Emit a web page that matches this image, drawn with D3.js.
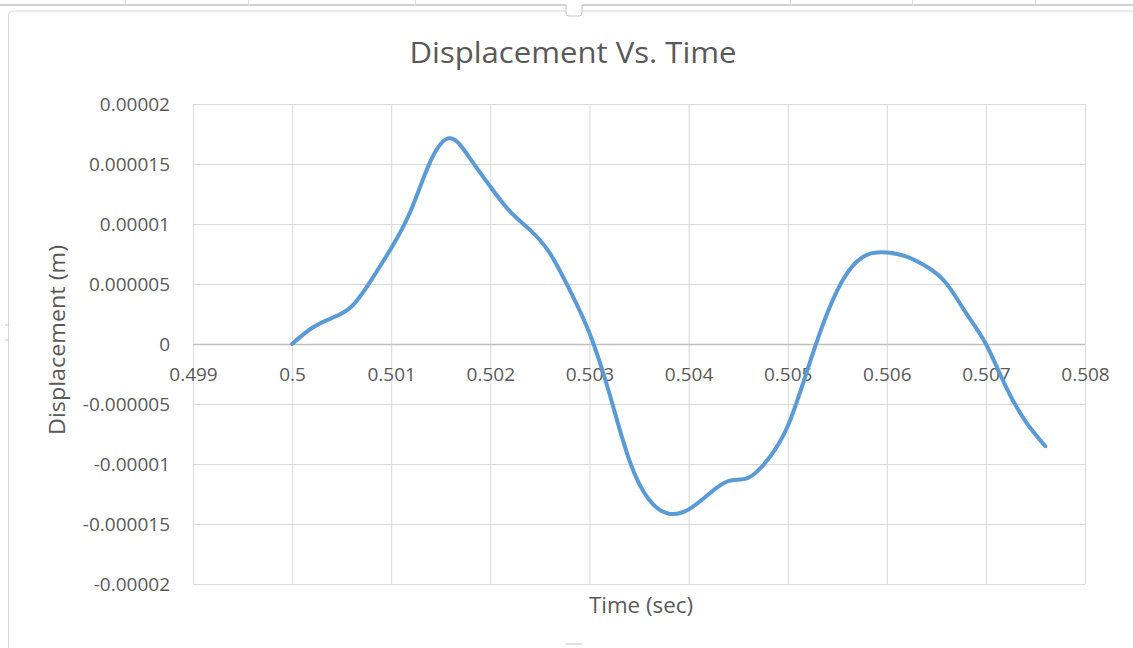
<!DOCTYPE html>
<html>
<head>
<meta charset="utf-8">
<script src="https://cdn.jsdelivr.net/npm/d3@7"></script>
<style>
  html, body { margin: 0; padding: 0; background: #ffffff; }
  svg { display: block; }
  text { font-family: "Open Sans", "Noto Sans", sans-serif; fill: #595959; }
</style>
</head>
<body>
<svg id="chart" width="1133" height="648"></svg>
<script>
// Time samples (s) and measured displacement (m)
const time = [
  0.5000, 0.5002, 0.5004, 0.5006, 0.5008, 0.5010, 0.5012, 0.5014, 0.5016, 0.5018,
  0.5020, 0.5022, 0.5024, 0.5026, 0.5028, 0.5030, 0.5032, 0.5034, 0.5036, 0.5038,
  0.5040, 0.5042, 0.5044, 0.5046, 0.5048, 0.5050, 0.5052, 0.5054, 0.5056, 0.5058,
  0.5060, 0.5062, 0.5064, 0.5066, 0.5068, 0.5070, 0.5072, 0.5074, 0.5076
];
const displacement = [
  0, 1.33e-6, 2.16e-6, 3.13e-6, 5.35e-6, 7.99e-6, 11.17e-6, 15.3e-6, 17.14e-6, 15.4e-6,
  13.11e-6, 11.03e-6, 9.51e-6, 7.57e-6, 4.52e-6, 0.92e-6, -4.08e-6, -9.63e-6, -12.95e-6, -14.14e-6,
  -13.79e-6, -12.54e-6, -11.43e-6, -11.15e-6, -9.63e-6, -6.86e-6, -2.14e-6, 2.58e-6, 5.91e-6, 7.43e-6,
  7.62e-6, 7.29e-6, 6.46e-6, 5.07e-6, 2.58e-6, 0, -3.53e-6, -6.44e-6, -8.52e-6
];

// Axis ticks and their printed labels
const xTicks = [0.499, 0.500, 0.501, 0.502, 0.503, 0.504, 0.505, 0.506, 0.507, 0.508];
const xTickLabels = ["0.499", "0.5", "0.501", "0.502", "0.503", "0.504", "0.505", "0.506", "0.507", "0.508"];
const yTicks = [2e-5, 1.5e-5, 1e-5, 5e-6, 0, -5e-6, -1e-5, -1.5e-5, -2e-5];
const yTickLabels = ["0.00002", "0.000015", "0.00001", "0.000005", "0", "-0.000005", "-0.00001", "-0.000015", "-0.00002"];

const titleText = "Displacement Vs. Time";
const xTitle = "Time (sec)";
const yTitle = "Displacement (m)";

const svg = d3.select("#chart");
const plot = { left: 193, right: 1085, top: 104, bottom: 584 };

// Surrounding sheet/frame lines
const frame = svg.append("g").attr("fill", "none");
frame.append("path").attr("d", "M0,5H566M582,5H1133").attr("stroke", "#c4c4c4").attr("stroke-width", 1.5);
frame.append("path")
  .attr("d", [125, 248, 415, 790, 912, 1035].map(v => `M${v + 0.5},0V5`).join(""))
  .attr("stroke", "#dddddd").attr("stroke-width", 1);
frame.append("path").attr("d", "M8.5,648V16Q8.5,11 13.5,11H566M582,11H1133").attr("stroke", "#d6d6d6").attr("stroke-width", 1);
frame.append("path").attr("d", "M566,5V13Q566,16 569,16H579Q582,16 582,13V5").attr("stroke", "#c4c4c4").attr("stroke-width", 1);
frame.append("path").attr("d", "M5,325H9M5,340H9M566,644H582").attr("stroke", "#c4c4c4").attr("stroke-width", 1);

const x = d3.scaleLinear().domain([0.499, 0.508]).range([plot.left, plot.right]);
const y = d3.scaleLinear().domain([-2e-5, 2e-5]).range([plot.bottom, plot.top]);

// Gridlines
const grid = svg.append("g");
grid.append("g")
  .attr("transform", `translate(0,${plot.bottom})`)
  .call(d3.axisBottom(x).tickValues(xTicks).tickSize(-(plot.bottom - plot.top)).tickFormat(""))
  .call(g => g.select(".domain").remove())
  .call(g => g.selectAll("line").attr("stroke", "#d9d9d9").attr("stroke-width", 1));
grid.append("g")
  .attr("transform", `translate(${plot.left},0)`)
  .call(d3.axisLeft(y).tickValues(yTicks).tickSize(-(plot.right - plot.left)).tickFormat(""))
  .call(g => g.select(".domain").remove())
  .call(g => g.selectAll("line").attr("stroke", "#d9d9d9").attr("stroke-width", 1));

// Horizontal axis line through zero
svg.append("line")
  .attr("x1", plot.left).attr("x2", plot.right)
  .attr("y1", Math.round(y(0)) + 0.5).attr("y2", Math.round(y(0)) + 0.5)
  .attr("stroke", "#bfbfbf").attr("stroke-width", 1.5);

// Y tick labels
const yAxis = svg.append("g")
  .attr("transform", `translate(${plot.left},0)`)
  .call(d3.axisLeft(y).tickValues(yTicks).tickSize(0).tickPadding(23)
    .tickFormat((d, i) => yTickLabels[i]));
yAxis.select(".domain").remove();
yAxis.selectAll("text")
  .attr("font-family", "'Open Sans', sans-serif")
  .attr("font-size", 19).attr("fill", "#595959");

// X tick labels, placed under the zero line
const xAxis = svg.append("g")
  .attr("transform", `translate(0,${y(0)})`)
  .call(d3.axisBottom(x).tickValues(xTicks).tickSize(0).tickPadding(24)
    .tickFormat((d, i) => xTickLabels[i]));
xAxis.select(".domain").remove();
xAxis.selectAll("text")
  .attr("font-family", "'Open Sans', sans-serif")
  .attr("font-size", 19).attr("fill", "#595959");

// Data line
const pts = time.map((t, i) => [t, displacement[i]]);
const line = d3.line()
  .x(d => x(d[0]))
  .y(d => y(d[1]))
  .curve(d3.curveNatural);
svg.append("path")
  .datum(pts)
  .attr("d", line)
  .attr("fill", "none")
  .attr("stroke", "#5b9bd5")
  .attr("stroke-width", 4)
  .attr("stroke-linecap", "round")
  .attr("stroke-linejoin", "round");

// Titles
svg.append("text")
  .attr("x", 573).attr("y", 63)
  .attr("text-anchor", "middle")
  .attr("font-size", 30)
  .attr("textLength", 327).attr("lengthAdjust", "spacingAndGlyphs")
  .text(titleText);

svg.append("text")
  .attr("x", 641).attr("y", 613)
  .attr("text-anchor", "middle")
  .attr("font-size", 22)
  .attr("textLength", 104).attr("lengthAdjust", "spacingAndGlyphs")
  .text(xTitle);

svg.append("text")
  .attr("transform", "translate(65,340) rotate(-90)")
  .attr("text-anchor", "middle")
  .attr("font-size", 22)
  .attr("textLength", 190).attr("lengthAdjust", "spacingAndGlyphs")
  .text(yTitle);
</script>
</body>
</html>
